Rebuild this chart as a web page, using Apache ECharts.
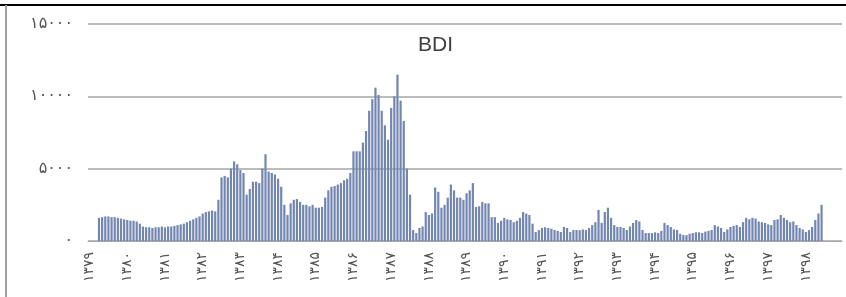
<!DOCTYPE html>
<html>
<head>
<meta charset="utf-8">
<script src="https://cdn.jsdelivr.net/npm/echarts@6/dist/echarts.min.js"></script>
<style>
  html, body { margin: 0; padding: 0; background: #fff; }
  #chart { width: 846px; height: 297px; }
</style>
</head>
<body>
<div id="chart"></div>
<script>
  // سال‌های شمسی (برچسب محور افقی، یکی برای هر ۱۲ ماه)
  var years = ['۱۳۷۹', '۱۳۸۰', '۱۳۸۱', '۱۳۸۲', '۱۳۸۳', '۱۳۸۴', '۱۳۸۵', '۱۳۸۶', '۱۳۸۷', '۱۳۸۸',
    '۱۳۸۹', '۱۳۹۰', '۱۳۹۱', '۱۳۹۲', '۱۳۹۳', '۱۳۹۴', '۱۳۹۵', '۱۳۹۶', '۱۳۹۷', '۱۳۹۸']

  // BDI ماهانه، ۱۲ مقدار برای هر سال
  var bdi = [
    null, null, null, 1600, 1650, 1700, 1700, 1650, 1650, 1600, 1550, 1500,     // 1379
    1450, 1400, 1400, 1350, 1200, 1000, 950, 950, 900, 950, 950, 1000,          // 1380
    950, 1000, 1000, 1050, 1100, 1150, 1200, 1300, 1400, 1500, 1600, 1700,      // 1381
    1900, 2000, 2050, 2100, 2050, 2850, 4400, 4500, 4400, 5000, 5500, 5300,     // 1382
    4900, 4700, 3200, 3600, 4100, 4100, 4000, 5000, 6000, 4800, 4700, 4600,     // 1383
    4300, 3750, 2500, 1800, 2600, 2850, 2900, 2700, 2500, 2500, 2400, 2500,     // 1384
    2300, 2300, 2350, 3000, 3500, 3750, 3800, 3900, 4000, 4200, 4300, 4700,     // 1385
    6200, 6200, 6200, 6800, 7600, 9000, 9800, 10600, 10100, 9000, 8000, 7000,   // 1386
    9200, 10000, 11500, 9700, 8300, 5000, 3200, 760, 550, 900, 1000, 2000,      // 1387
    1800, 1900, 3700, 3400, 2300, 2500, 3000, 3900, 3500, 3000, 3000, 2850,     // 1388
    3300, 3500, 4000, 2350, 2400, 2700, 2600, 2600, 1650, 1650, 1250, 1400,     // 1389
    1600, 1500, 1450, 1300, 1400, 1600, 2000, 1900, 1800, 1200, 620, 750,       // 1390
    900, 950, 900, 850, 760, 700, 620, 970, 900, 620, 760, 760,                 // 1391
    750, 800, 760, 900, 1100, 1300, 2150, 1250, 2000, 2300, 1600, 1100,         // 1392
    970, 970, 900, 760, 1000, 1250, 1450, 1350, 760, 550, 550, 550,             // 1393
    600, 550, 700, 1250, 1100, 970, 800, 760, 500, 420, 400, 500,               // 1394
    550, 600, 600, 550, 650, 700, 760, 1100, 1000, 900, 620, 800,               // 1395
    970, 1050, 1100, 970, 1300, 1600, 1500, 1600, 1550, 1350, 1300, 1250,       // 1396
    1150, 1100, 1450, 1500, 1800, 1600, 1450, 1300, 1350, 1100, 900, 800,       // 1397
    620, 750, 970, 1450, 1900, 2500, null, null, null, null, null, null         // 1398
  ]

  var yTicks = [0, 5000, 10000, 15000]
  var persianDigits = ['۰', '۱', '۲', '۳', '۴', '۵', '۶', '۷', '۸', '۹']

  function toPersian(n) {
    return String(n).replace(/[0-9]/g, function (d) { return persianDigits[+d] })
  }

  var months = []
  years.forEach(function (y) {
    for (var m = 1; m <= 12; m++) {
      months.push(y + '/' + m)
    }
  })

  var chart = echarts.init(document.getElementById('chart'))
  chart.setOption({
    animation: false,
    backgroundColor: '#fff',
    title: {
      text: 'BDI',
      left: 413,
      top: 30,
      textStyle: {
        fontFamily: 'Liberation Sans',
        fontSize: 21,
        fontWeight: 'normal',
        color: '#404040'
      }
    },
    grid: {
      left: 88,
      right: 4,
      top: 24,
      bottom: 56
    },
    xAxis: {
      type: 'category',
      data: months,
      axisLine: { show: true, lineStyle: { color: '#a6a6a6', width: 1 } },
      axisTick: { show: false },
      axisLabel: {
        interval: 11,
        rotate: 90,
        margin: 11,
        fontFamily: 'DejaVu Sans',
        fontSize: 14,
        color: '#555',
        formatter: function (v) { return v.split('/')[0] }
      }
    },
    yAxis: {
      type: 'value',
      min: yTicks[0],
      max: yTicks[yTicks.length - 1],
      interval: 5000,
      axisLine: { show: false },
      axisTick: { show: false },
      splitLine: { lineStyle: { color: '#a6a6a6', width: 1.5 } },
      axisLabel: {
        margin: 15,
        fontFamily: 'DejaVu Sans',
        fontSize: 16,
        color: '#555',
        formatter: function (v) { return toPersian(v) }
      }
    },
    series: [
      {
        name: 'BDI',
        type: 'bar',
        data: bdi,
        barCategoryGap: '30%',
        itemStyle: {
          color: '#7386b0'
        }
      }
    ],
    graphic: [
      {
        type: 'line',
        shape: { x1: 0, y1: 5, x2: 846, y2: 5 },
        style: { stroke: '#000', lineWidth: 2 }
      },
      {
        type: 'line',
        shape: { x1: 6, y1: 5, x2: 6, y2: 297 },
        style: { stroke: '#a0a0a0', lineWidth: 2 }
      }
    ]
  })
</script>
</body>
</html>
